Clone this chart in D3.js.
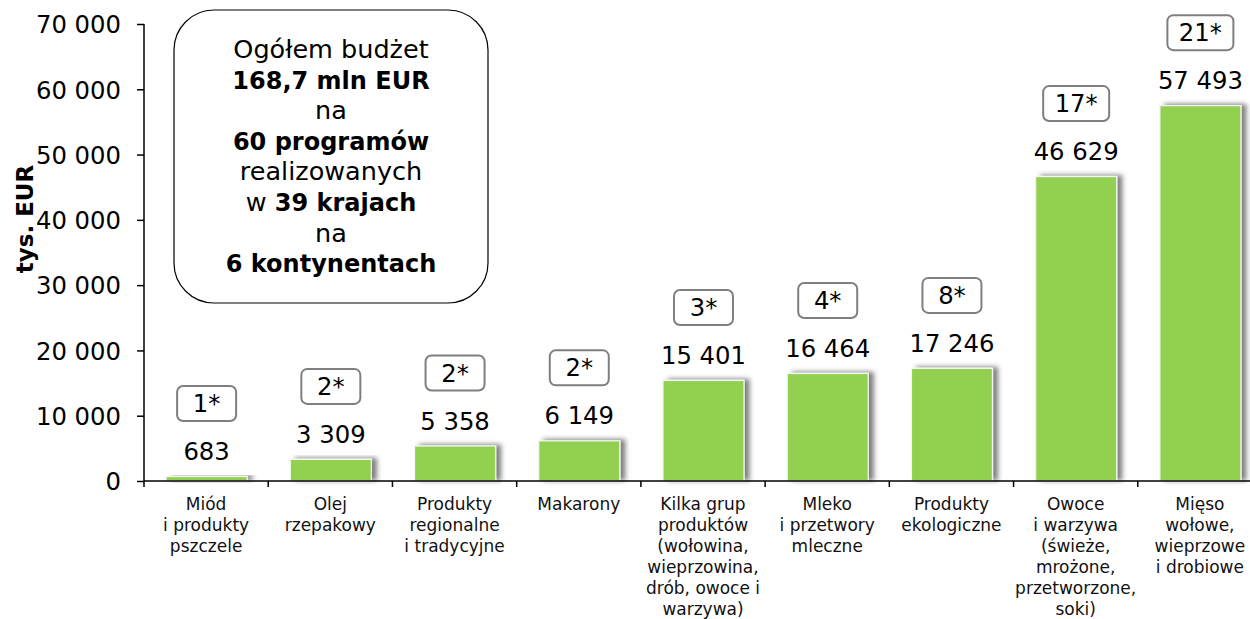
<!DOCTYPE html>
<html>
<head>
<meta charset="utf-8">
<script src="https://cdn.jsdelivr.net/npm/d3@7"></script>
<style>
  html, body { margin: 0; padding: 0; background: #fff; }
  svg { display: block; font-family: "DejaVu Sans", Verdana, sans-serif; }
</style>
</head>
<body>
<svg id="chart" width="1250" height="619"></svg>
<script>
const categories = [
  ["Miód", "i produkty", "pszczele"],
  ["Olej", "rzepakowy"],
  ["Produkty", "regionalne", "i tradycyjne"],
  ["Makarony"],
  ["Kilka grup", "produktów", "(wołowina,", "wieprzowina,", "drób, owoce i", "warzywa)"],
  ["Mleko", "i przetwory", "mleczne"],
  ["Produkty", "ekologiczne"],
  ["Owoce", "i warzywa", "(świeże,", "mrożone,", "przetworzone,", "soki)"],
  ["Mięso", "wołowe,", "wieprzowe", "i drobiowe"]
];
const values = [683, 3309, 5358, 6149, 15401, 16464, 17246, 46629, 57493];
const programCounts = ["1*", "2*", "2*", "2*", "3*", "4*", "8*", "17*", "21*"];
const yTicks = [0, 10000, 20000, 30000, 40000, 50000, 60000, 70000];
const yTitle = "tys. EUR";
const infoLines = [
  [["Ogółem budżet", false]],
  [["168,7 mln EUR", true]],
  [["na", false]],
  [["60 programów", true]],
  [["realizowanych", false]],
  [["w ", false], ["39 krajach", true]],
  [["na", false]],
  [["6 kontynentach", true]]
];

const svg = d3.select("#chart");
const fmt = v => d3.format(",")(v).replace(/,/g, " ");

const x = d3.scaleBand().domain(d3.range(categories.length)).range([144, 1262]).paddingInner(0).paddingOuter(0);
const y = d3.scaleLinear().domain([0, 70000]).range([481, 24]);

const defs = svg.append("defs");
const f = defs.append("filter").attr("id", "shadow").attr("x", "-20%").attr("y", "-20%").attr("width", "150%").attr("height", "150%");
f.append("feDropShadow").attr("dx", 5).attr("dy", -1).attr("stdDeviation", 2.5).attr("flood-color", "#000").attr("flood-opacity", 0.5);

// Y axis
const yAxis = svg.append("g").attr("transform", "translate(144,0)")
  .call(d3.axisLeft(y).tickValues(yTicks).tickSize(7).tickPadding(16).tickFormat(fmt));
yAxis.select(".domain").attr("stroke", "#000").attr("stroke-width", 1.5).attr("d", `M0,${y(70000)}V${y(0)}`);
yAxis.selectAll(".tick line").attr("stroke", "#000").attr("stroke-width", 1.5);
yAxis.selectAll(".tick text").attr("font-size", 24.3).attr("fill", "#000").attr("font-family", "DejaVu Sans, Verdana, sans-serif").attr("dy", "0.36em");

svg.append("text").attr("transform", "translate(33,219) rotate(-90)")
  .attr("text-anchor", "middle").attr("font-size", 23).attr("font-weight", "bold").attr("fill", "#000")
  .text(yTitle);

// Bars
const bw = x.bandwidth() * 0.652;
const bars = svg.append("g");
values.forEach((v, i) => {
  const cx = x(i) + x.bandwidth() / 2 + 0.5;
  bars.append("rect")
    .attr("x", cx - bw / 2).attr("y", y(v))
    .attr("width", bw).attr("height", y(0) - y(v))
    .attr("fill", "#92D050").attr("stroke", "#f4f4f4").attr("stroke-width", 1.2)
    .attr("filter", "url(#shadow)");
});

// X axis
const xa = svg.append("g");
xa.append("line").attr("x1", 144).attr("x2", 1262).attr("y1", y(0)).attr("y2", y(0)).attr("stroke", "#000").attr("stroke-width", 1.5);
d3.range(categories.length + 1).forEach(k => {
  const tx = 144 + k * x.bandwidth();
  xa.append("line").attr("x1", tx).attr("x2", tx).attr("y1", y(0)).attr("y2", y(0) + 6).attr("stroke", "#000").attr("stroke-width", 1.5);
});

// Category labels
categories.forEach((lines, i) => {
  const cx = x(i) + x.bandwidth() / 2;
  const t = svg.append("text").attr("text-anchor", "middle").attr("font-size", 17).attr("fill", "#111");
  lines.forEach((ln, j) => {
    t.append("tspan").attr("x", cx).attr("y", 510 + j * 21).text(ln);
  });
});

// Value labels and count boxes
values.forEach((v, i) => {
  const cx = x(i) + x.bandwidth() / 2 + 0.5;
  const base = y(v) - 16.5;
  svg.append("text").attr("x", cx).attr("y", base).attr("text-anchor", "middle")
    .attr("font-size", 24.3).attr("fill", "#000").text(fmt(v));
  const label = programCounts[i];
  const w = label.length > 2 ? 66 : 59;
  const h = 35;
  const by = base - 39 - h;
  svg.append("rect").attr("x", cx - w / 2).attr("y", by).attr("width", w).attr("height", h)
    .attr("rx", 6).attr("ry", 6).attr("fill", "#fff").attr("stroke", "#7f7f7f").attr("stroke-width", 2);
  svg.append("text").attr("x", cx).attr("y", by + h / 2 + 8.5).attr("text-anchor", "middle")
    .attr("font-size", 24.3).attr("fill", "#000").text(label);
});

// Info box
svg.append("rect").attr("x", 174).attr("y", 10).attr("width", 314).attr("height", 293)
  .attr("rx", 40).attr("ry", 40).attr("fill", "#fff").attr("stroke", "#000").attr("stroke-width", 1.2);
infoLines.forEach((segs, j) => {
  const t = svg.append("text").attr("x", 331).attr("y", 58 + j * 30.6).attr("text-anchor", "middle")
    .attr("fill", "#000");
  segs.forEach(([s, b]) => {
    t.append("tspan").attr("font-weight", b ? "bold" : "normal").attr("font-size", b ? 24 : 25.5).text(s);
  });
});
</script>
</body>
</html>
